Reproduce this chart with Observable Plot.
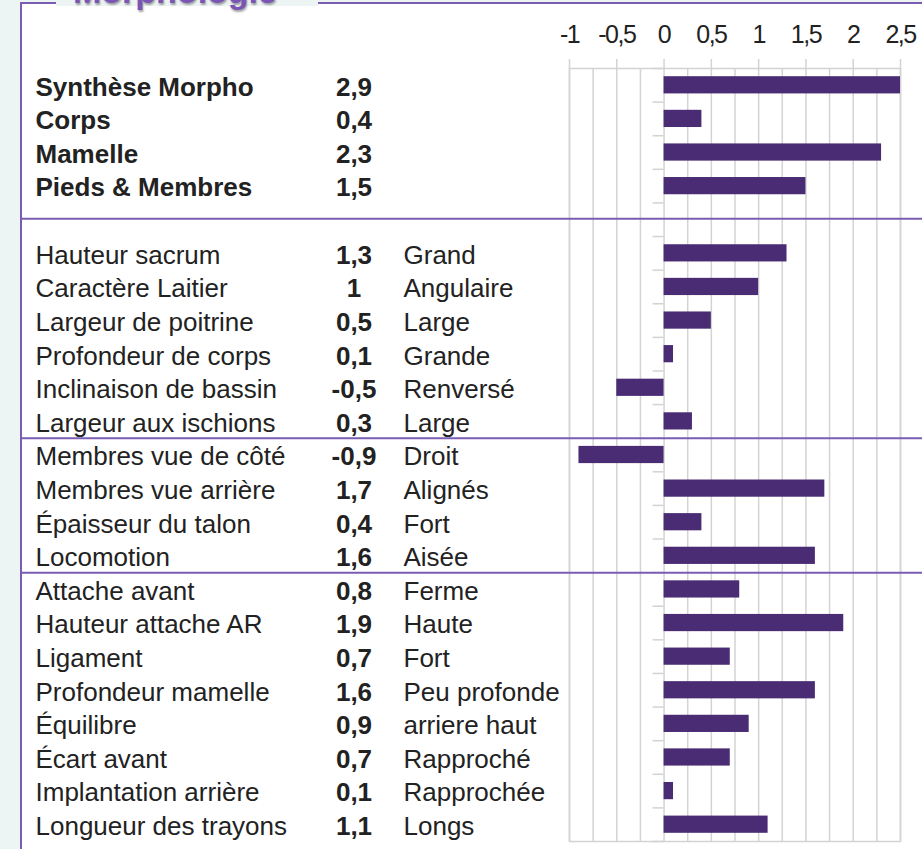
<!DOCTYPE html>
<html><head><meta charset="utf-8">
<script src="https://cdn.jsdelivr.net/npm/d3@7"></script>
<script src="https://cdn.jsdelivr.net/npm/@observablehq/plot@0.6"></script>
<style>
html,body{margin:0;padding:0;background:#edf5f4;width:922px;height:849px;overflow:hidden;position:relative}
#frame{position:absolute;left:20px;top:2px;width:920px;height:900px;background:#fff;border-left:2.5px solid #7b5cb3;border-top:2.5px solid #7b5cb3}
#titlebg{position:absolute;left:56px;top:0;width:262px;height:6px;background:#edf5f4}
#title{position:absolute;left:73px;top:-26px;font:bold 34px "Liberation Sans",Arial,sans-serif;line-height:34px;color:#7b55b5;text-shadow:1px 2px 2px rgba(0,0,0,.35);white-space:nowrap}
#chart{position:absolute;left:0;top:0}
</style></head><body>
<div id="frame"></div><div id="titlebg"></div><div id="title">Morphologie</div>
<div id="chart"></div>
<script>
const labels = ["Synthèse Morpho","Corps","Mamelle","Pieds & Membres","",
  "Hauteur sacrum","Caractère Laitier","Largeur de poitrine","Profondeur de corps","Inclinaison de bassin","Largeur aux ischions",
  "Membres vue de côté","Membres vue arrière","Épaisseur du talon","Locomotion",
  "Attache avant","Hauteur attache AR","Ligament","Profondeur mamelle","Équilibre","Écart avant","Implantation arrière","Longueur des trayons"];
const values = [2.9, 0.4, 2.3, 1.5, null,
  1.3, 1, 0.5, 0.1, -0.5, 0.3,
  -0.9, 1.7, 0.4, 1.6,
  0.8, 1.9, 0.7, 1.6, 0.9, 0.7, 0.1, 1.1];
const descriptors = ["","","","","",
  "Grand","Angulaire","Large","Grande","Renversé","Large",
  "Droit","Alignés","Fort","Aisée",
  "Ferme","Haute","Fort","Peu profonde","arriere haut","Rapproché","Rapprochée","Longs"];
const boldLabels = ["Synthèse Morpho","Corps","Mamelle","Pieds & Membres"];
const groupBreakInRow = [""];
const groupBreakBefore = ["Membres vue de côté","Attache avant"];
const majorTicks = [-1, -0.5, 0, 0.5, 1, 1.5, 2, 2.5];
const minorTicks = [-1, -0.75, -0.5, -0.25, 0, 0.25, 0.5, 0.75, 1, 1.25, 1.5, 1.75, 2, 2.25, 2.5];

const W = 922, H = 849, mL = 569, mR = 22, mT = 68, mB = 8;
const bw = (H - mT - mB) / labels.length;
const fmt = v => String(v).replace(".", ",");
const rows = labels.map((label, i) => ({label, value: values[i], desc: descriptors[i], bold: boldLabels.includes(label)}));
const bars = rows.filter(d => d.value != null);
const font = "'Liberation Sans', Arial, sans-serif";
const txt = "#222";
const purple = "#7b5cb3";
const grid = "#d3d3d3";

const chart = Plot.plot({
  width: W, height: H, marginLeft: mL, marginRight: mR, marginTop: mT, marginBottom: mB,
  style: {background: "transparent", overflow: "visible", fontFamily: font},
  x: {domain: [-1, 2.5], axis: null, label: null},
  y: {domain: labels, padding: 0, round: false, axis: null},
  marks: [
    Plot.gridX(minorTicks, {stroke: grid, strokeOpacity: 1, strokeWidth: 1.5}),
    Plot.frame({stroke: grid, strokeWidth: 1.5}),
    Plot.axisX({anchor: "top", ticks: majorTicks, tickSize: 10, tickPadding: 16, tickFormat: fmt, label: null,
      fontSize: 25, fontFamily: "'Liberation Sans Narrow', 'Arial Narrow', 'Liberation Sans', sans-serif",
      stroke: grid, strokeWidth: 1.5, strokeOpacity: 1, fill: txt}),
    Plot.ruleY(labels, {y: d => d, x1: 0, x2: 0, insetLeft: -11, dy: -bw / 2, stroke: grid, strokeWidth: 1.5}),
    Plot.ruleY(labels.slice(-1), {y: d => d, x1: 0, x2: 0, insetLeft: -11, dy: bw / 2, stroke: grid, strokeWidth: 1.5}),
    Plot.barX(bars, {y: "label", x1: 0, x2: "value", fill: "#4a2c74", insetTop: 8.2, insetBottom: 8.2, clip: true}),
    Plot.ruleY(groupBreakInRow, {y: d => d, dy: -1, stroke: purple, strokeWidth: 2, insetLeft: -(mL - 21), insetRight: -mR}),
    Plot.ruleY(groupBreakBefore, {y: d => d, dy: -bw / 2, stroke: purple, strokeWidth: 2, insetLeft: -(mL - 21), insetRight: -mR}),
    Plot.text(rows.filter(d => d.bold), {y: "label", text: "label", frameAnchor: "left", dx: 35 - mL, dy: 2, textAnchor: "start", fontSize: 26, fontWeight: "bold", fill: txt}),
    Plot.text(rows.filter(d => !d.bold && d.label), {y: "label", text: "label", frameAnchor: "left", dx: 35 - mL, dy: 2, textAnchor: "start", fontSize: 26, fill: txt}),
    Plot.text(bars, {y: "label", text: d => fmt(d.value), frameAnchor: "left", dx: 353.5 - mL, dy: 2, textAnchor: "middle", fontSize: 26, fontWeight: "bold", fill: txt}),
    Plot.text(rows.filter(d => d.desc), {y: "label", text: "desc", frameAnchor: "left", dx: 403 - mL, dy: 2, textAnchor: "start", fontSize: 26, fill: txt})
  ]
});
d3.select(chart).selectAll('g[aria-label="x-axis tick label"] text').style("letter-spacing", "-1.5px");
document.getElementById("chart").appendChild(chart);
</script>
</body></html>
